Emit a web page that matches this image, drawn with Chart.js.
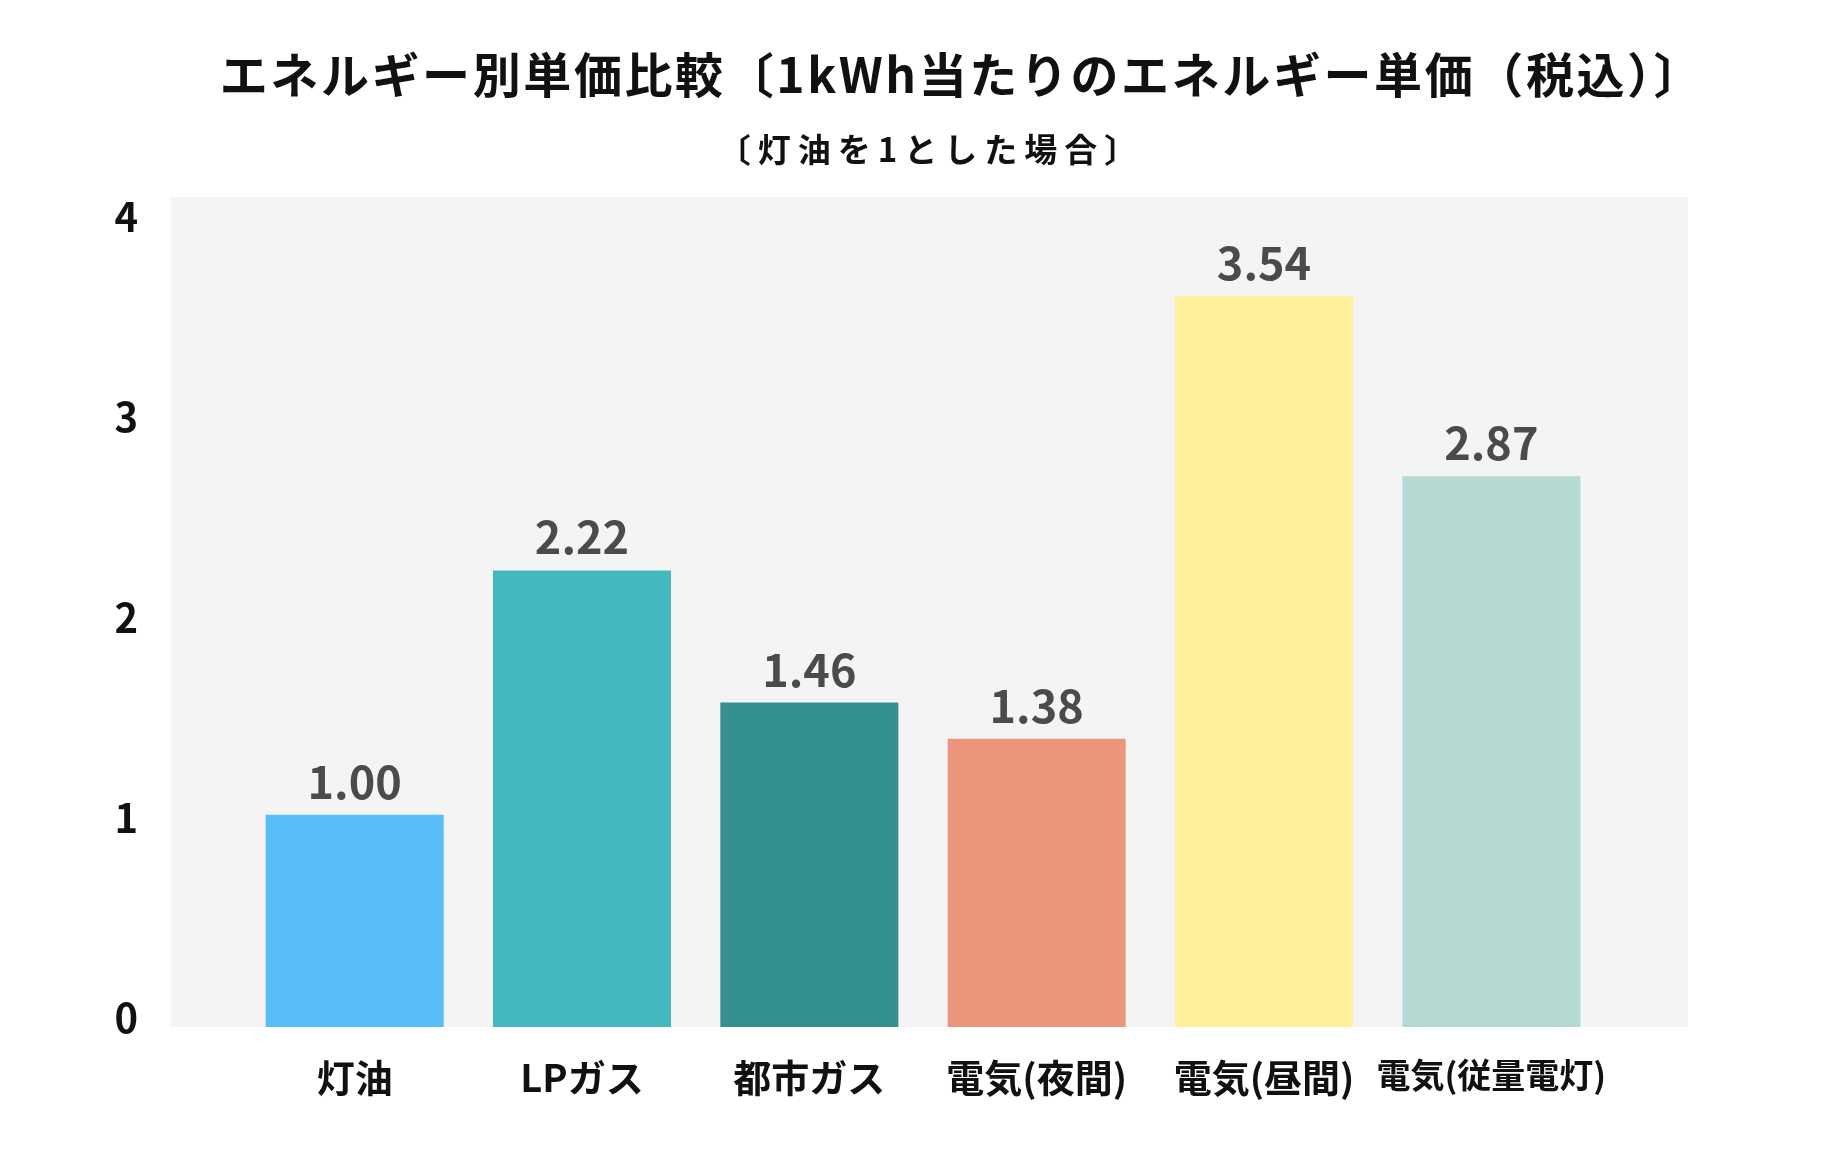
<!DOCTYPE html>
<html lang="ja">
<head>
<meta charset="utf-8">
<script src="https://cdn.jsdelivr.net/npm/chart.js@4.4.1/dist/chart.umd.min.js"></script>
<style>
  html, body { margin: 0; padding: 0; background: #fff; }
</style>
</head>
<body>
<canvas id="chart" width="1827" height="1170"></canvas>
<script>
// Chart text
const TITLE = 'エネルギー別単価比較〔1kWh当たりのエネルギー単価（税込）〕';
const SUBTITLE = '〔灯油を1とした場合〕';

// Categories and values
const CATEGORIES = ['灯油', 'LPガス', '都市ガス', '電気(夜間)', '電気(昼間)', '電気(従量電灯)'];
// bar heights as drawn in the picture (they do not exactly follow the printed numbers)
const BAR_HEIGHTS = [1.06, 2.28, 1.62, 1.44, 3.65, 2.75];
// numbers printed above the bars
const VALUE_LABELS = ['1.00', '2.22', '1.46', '1.38', '3.54', '2.87'];
const BAR_COLORS = ['#57bdf9', '#43b8be', '#348f8f', '#eb967a', '#fff09c', '#b4dad3'];

// Axis
const Y_TICKS = [0, 1, 2, 3, 4];
const Y_MAX = 4.145;

const FONT = '"Noto Sans CJK JP", "Noto Sans", sans-serif';

// Grey panel behind the bars, a bit wider than the category range
const panelBackground = {
    id: 'panelBackground',
    beforeDraw(chart) {
        const { ctx, chartArea } = chart;
        ctx.save();
        ctx.fillStyle = '#f4f4f4';
        ctx.fillRect(chartArea.left - 70, chartArea.top, chartArea.width + 153, chartArea.height);
        ctx.restore();
    }
};

// Title + subtitle (centred off the canvas middle, like the original)
const titles = {
    id: 'titles',
    afterDraw(chart) {
        const ctx = chart.ctx;
        ctx.save();
        ctx.fillStyle = '#111';
        ctx.textAlign = 'center';
        ctx.textBaseline = 'middle';
        ctx.font = 'bold 48px ' + FONT;
        ctx.letterSpacing = '2.6px';
        ctx.fillText(TITLE, 962, 75);
        ctx.font = 'bold 33px ' + FONT;
        ctx.letterSpacing = '7px';
        ctx.fillText(SUBTITLE, 931, 149);
        ctx.restore();
    }
};

// Numbers above each bar
const valueLabels = {
    id: 'valueLabels',
    afterDatasetsDraw(chart) {
        const ctx = chart.ctx;
        const meta = chart.getDatasetMeta(0);
        ctx.save();
        ctx.fillStyle = '#4b4b4b';
        ctx.font = 'bold 45px ' + FONT;
        ctx.textAlign = 'center';
        ctx.textBaseline = 'alphabetic';
        meta.data.forEach((bar, i) => {
            ctx.fillText(VALUE_LABELS[i], bar.x, bar.y - 16);
        });
        ctx.restore();
    }
};

const ctx = document.getElementById('chart').getContext('2d');

new Chart(ctx, {
    type: 'bar',
    data: {
        labels: CATEGORIES,
        datasets: [{
            data: BAR_HEIGHTS,
            backgroundColor: BAR_COLORS,
            borderWidth: 0,
            barPercentage: 0.783,
            categoryPercentage: 1
        }]
    },
    options: {
        responsive: false,
        animation: false,
        layout: {
            padding: { top: 197, left: 115, right: 222, bottom: 53 }
        },
        scales: {
            x: {
                grid: { display: false, drawTicks: false },
                border: { display: false },
                ticks: {
                    color: '#111',
                    // the last, longer label is set a little smaller
                    font: c => ({ family: FONT, size: c.index === 5 ? 34 : 38, weight: 'bold' }),
                    padding: 28,
                    maxRotation: 0,
                    autoSkip: false
                },
                afterFit: scale => { scale.height = 90; }
            },
            y: {
                min: 0,
                max: Y_MAX,
                grid: { display: false, drawTicks: false },
                border: { display: false },
                ticks: {
                    color: '#111',
                    font: { family: FONT, size: 40, weight: 'bold' },
                    padding: 103,
                    labelOffset: -9
                },
                afterBuildTicks: scale => {
                    scale.ticks = Y_TICKS.map(v => ({ value: v }));
                },
                afterFit: scale => { scale.width = 126; }
            }
        },
        plugins: {
            legend: { display: false },
            tooltip: { enabled: false },
            title: { display: false }
        }
    },
    plugins: [panelBackground, valueLabels, titles]
});
</script>
</body>
</html>
